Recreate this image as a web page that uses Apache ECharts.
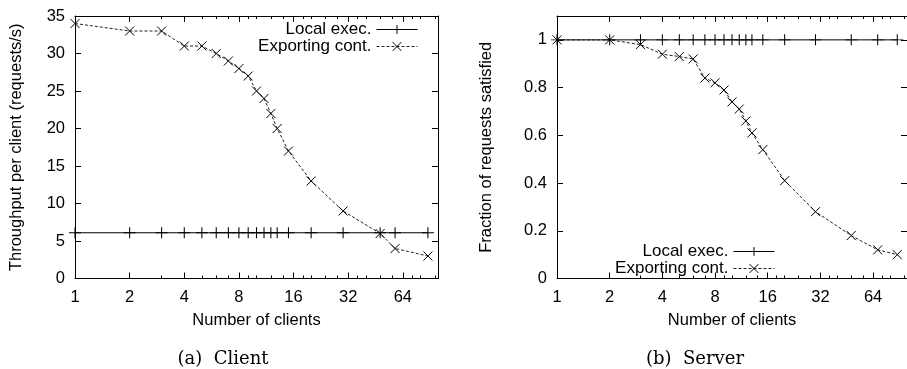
<!DOCTYPE html>
<html>
<head>
<meta charset="utf-8">
<script src="https://cdn.jsdelivr.net/npm/echarts@6/dist/echarts.min.js"></script>
<style>
  html, body { margin: 0; padding: 0; background: #fff; }
  #chart { width: 907px; height: 369px; }
</style>
</head>
<body>
<div id="chart"></div>
<script>
// (a) Client: throughput per client
const clientClients = [1, 2, 3, 4, 5, 6, 7, 8, 9, 10, 11, 12, 13, 15, 20, 30, 48, 58, 88];
const clientLocal = [6.1, 6.1, 6.1, 6.1, 6.1, 6.1, 6.1, 6.1, 6.1, 6.1, 6.1, 6.1, 6.1, 6.1, 6.1, 6.1, 6.1, 6.1, 6.1];
const clientExport = [34, 33, 33, 31, 31, 30, 29, 28, 27, 25, 24, 22, 20, 17, 13, 9, 6, 4, 3];

// (b) Server: fraction of requests satisfied
const serverClients = [1, 2, 3, 4, 5, 6, 7, 8, 9, 10, 11, 12, 13, 15, 20, 30, 48, 68, 88];
const serverLocal = [1, 1, 1, 1, 1, 1, 1, 1, 1, 1, 1, 1, 1, 1, 1, 1, 1, 1, 1];
const serverExport = [1, 1, 0.98, 0.94, 0.93, 0.92, 0.84, 0.82, 0.79, 0.74, 0.71, 0.66, 0.61, 0.54, 0.41, 0.28, 0.18, 0.12, 0.1];

const xMajorTicks = [1, 2, 4, 8, 16, 32, 64];
const xMinorTicks = [3, 5, 6, 7, 9, 10, 12, 14, 18, 20, 24, 28, 36, 40, 48, 56, 72, 80, 96];
const clientYTicks = [0, 5, 10, 15, 20, 25, 30, 35];
const serverYTicks = [0, 0.2, 0.4, 0.6, 0.8, 1];

const seriesNames = ['Local exec.', 'Exporting cont.'];
const captions = ['(a)  Client', '(b)  Server'];

const PLUS = 'path://M0,5L10,5M5,0L5,10';
const CROSS = 'path://M0,0L10,10M0,10L10,0';
const SANS = 'Liberation Sans, Arial, sans-serif';

const pairs = (xs, ys) => xs.map((x, i) => [x, ys[i]]);

function tick(len, values) {
  return { show: true, inside: true, length: len, customValues: values, lineStyle: { color: '#000', width: 1 } };
}

function line(show) {
  return { show: show, onZero: false, lineStyle: { color: '#000', width: 1 } };
}

// gnuplot-style box: labelled bottom axis, minor ticks, mirrored top axis
function xAxes(gridIndex) {
  const base = {
    type: 'log', logBase: 2, min: 1, max: 100, gridIndex: gridIndex,
    splitLine: { show: false }, minorTick: { show: false }, minorSplitLine: { show: false }
  };
  return [
    {
      ...base, position: 'bottom',
      name: 'Number of clients', nameLocation: 'middle', nameGap: 33,
      nameTextStyle: { color: '#000', fontFamily: SANS, fontSize: 16.5 },
      axisLine: line(true),
      axisTick: tick(6, xMajorTicks),
      axisLabel: { customValues: xMajorTicks, margin: 10, color: '#000', fontFamily: SANS, fontSize: 16.5 }
    },
    { ...base, position: 'bottom', axisLine: line(false), axisTick: tick(3, xMinorTicks), axisLabel: { show: false } },
    { ...base, position: 'top', axisLine: line(true), axisTick: tick(6, xMajorTicks), axisLabel: { show: false } },
    { ...base, position: 'top', axisLine: line(false), axisTick: tick(3, xMinorTicks), axisLabel: { show: false } }
  ];
}

function yAxes(gridIndex, max, ticks, name, nameGap) {
  const base = {
    type: 'value', min: 0, max: max, gridIndex: gridIndex,
    splitLine: { show: false }
  };
  return [
    {
      ...base, position: 'left',
      name: name, nameLocation: 'middle', nameGap: nameGap,
      nameTextStyle: { color: '#000', fontFamily: SANS, fontSize: 16.5 },
      axisLine: line(true),
      axisTick: { show: false },
      axisLabel: { customValues: ticks, margin: 10, color: '#000', fontFamily: SANS, fontSize: 16.5 }
    },
    { ...base, position: 'left', axisLine: line(false), axisTick: tick(6, ticks), axisLabel: { show: false } },
    { ...base, position: 'right', axisLine: line(true), axisTick: tick(6, ticks), axisLabel: { show: false } }
  ];
}

function makeSeries(name, data, xIndex, yIndex, local) {
  return {
    name: name,
    type: 'line',
    xAxisIndex: xIndex,
    yAxisIndex: yIndex,
    data: data,
    clip: false,
    symbol: local ? PLUS : CROSS,
    symbolSize: local ? [12, 11] : [9, 9],
    itemStyle: { color: '#000', borderColor: '#000', borderWidth: 1 },
    lineStyle: local
      ? { color: '#000', width: 1, type: 'solid' }
      : { color: '#222', width: 1, type: [3, 2] },
    emphasis: { disabled: true },
    animation: false
  };
}

const legendBase = {
  data: seriesNames,
  orient: 'vertical',
  align: 'right',
  itemWidth: 41,
  itemHeight: 11,
  itemGap: 0,
  padding: 0,
  selectedMode: false,
  itemStyle: { borderWidth: 1 },
  lineStyle: { width: 1 },
  textStyle: { color: '#000', fontFamily: SANS, fontSize: 17 }
};

const option = {
  backgroundColor: '#fff',
  animation: false,
  grid: [
    { left: 75, top: 16, width: 363, height: 262.5 },
    { left: 557, top: 16, width: 353, height: 262.5 }
  ],
  xAxis: [...xAxes(0), ...xAxes(1)],
  yAxis: [
    ...yAxes(0, 35, clientYTicks, 'Throughput per client (requests/s)', 50),
    ...yAxes(1, 1.1, serverYTicks, 'Fraction of requests satisfied', 62)
  ],
  legend: [
    { ...legendBase, right: 489, top: 21 },
    { ...legendBase, right: 132, top: 243 }
  ],
  series: [
    makeSeries(seriesNames[0], pairs(clientClients, clientLocal), 0, 0, true),
    makeSeries(seriesNames[1], pairs(clientClients, clientExport), 0, 0, false),
    makeSeries(seriesNames[0], pairs(serverClients, serverLocal), 4, 3, true),
    makeSeries(seriesNames[1], pairs(serverClients, serverExport), 4, 3, false)
  ],
  graphic: [
    {
      type: 'text', x: 223, y: 359,
      style: { text: captions[0], fill: '#000', font: '18px "DejaVu Serif", serif', align: 'center', verticalAlign: 'middle' }
    },
    {
      type: 'text', x: 695, y: 359,
      style: { text: captions[1], fill: '#000', font: '18px "DejaVu Serif", serif', align: 'center', verticalAlign: 'middle' }
    }
  ]
};

const chart = echarts.init(document.getElementById('chart'), null, { renderer: 'canvas' });
chart.setOption(option);
</script>
</body>
</html>
